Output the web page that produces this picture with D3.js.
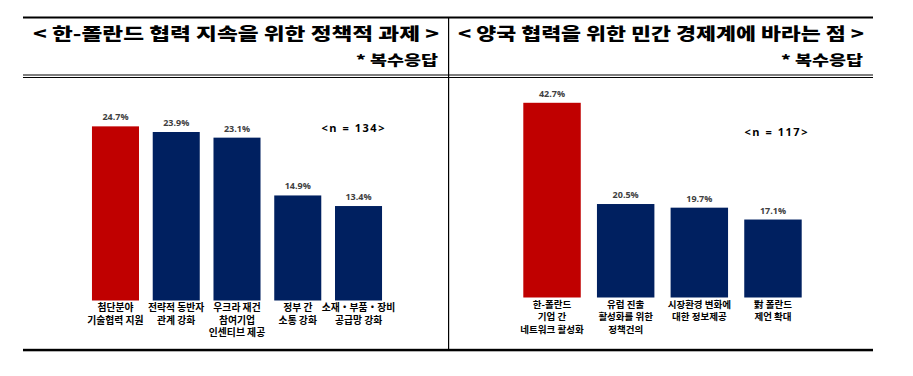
<!DOCTYPE html>
<html>
<head>
<meta charset="utf-8">
<script src="https://cdn.jsdelivr.net/npm/d3@7"></script>
<style>
  body { margin: 0; background: #fff; }
  text { font-family: "Noto Sans CJK KR", "Noto Sans", sans-serif; }
</style>
</head>
<body>
<script>
var w = 913;
var h = 376;

// left panel data
var leftTitle = "< 한-폴란드 협력 지속을 위한 정책적 과제 >";
var leftCats = ["첨단분야\n기술협력 지원", "전략적 동반자\n관계 강화", "우크라 재건\n참여기업\n인센티브 제공", "정부 간\n소통 강화", "소재・부품・장비\n공급망 강화"];
var leftVals = [24.7, 23.9, 23.1, 14.9, 13.4];
var leftN = "<n = 134>";

// right panel data
var rightTitle = "< 양국 협력을 위한 민간 경제계에 바라는 점 >";
var rightCats = ["한-폴란드\n기업 간\n네트워크 활성화", "유럽 진출\n활성화를 위한\n정책건의", "시장환경 변화에\n대한 정보제공", "對 폴란드\n제언 확대"];
var rightVals = [42.7, 20.5, 19.7, 17.1];
var rightN = "<n = 117>";

var note = "* 복수응답";

var red = "#c00000";
var navy = "#002060";

var svg = d3.select("body").append("svg")
    .attr("width", w)
    .attr("height", h);

// frame lines
svg.append("rect").attr("x", 23).attr("y", 16.5).attr("width", 850).attr("height", 2).attr("fill", "#000");
svg.append("rect").attr("x", 23).attr("y", 74.5).attr("width", 850).attr("height", 1).attr("fill", "#000");
svg.append("rect").attr("x", 23).attr("y", 77).attr("width", 850).attr("height", 1).attr("fill", "#000");
svg.append("rect").attr("x", 23).attr("y", 348.8).attr("width", 850).attr("height", 2.5).attr("fill", "#000");
svg.append("rect").attr("x", 448).attr("y", 17).attr("width", 1.2).attr("height", 333).attr("fill", "#000");

function header(title, note, x0, x1) {
  svg.append("text")
    .attr("x", x0).attr("y", 40)
    .attr("textLength", x1 - x0)
    .attr("lengthAdjust", "spacingAndGlyphs")
    .style("font-size", "17px")
    .style("font-weight", 900)
    .text(title);
  svg.append("text")
    .attr("x", x1 - 1).attr("y", 65)
    .attr("text-anchor", "end")
    .attr("textLength", 82)
    .attr("lengthAdjust", "spacingAndGlyphs")
    .style("font-size", "13.5px")
    .style("font-weight", 900)
    .text(note);
}

header(leftTitle, note, 33, 439);
header(rightTitle, note, 458, 864);

function panel(cats, vals, n, opt) {
  var x = d3.scaleBand()
    .domain(cats)
    .range(opt.xr)
    .paddingInner(opt.pad)
    .paddingOuter(opt.pad / 2);

  var y = d3.scaleLinear()
    .domain([0, opt.ymax])
    .range([opt.base, opt.top]);

  var maxV = d3.max(vals);
  var g = svg.append("g");

  g.selectAll("rect.bar")
    .data(vals)
    .enter().append("rect")
    .attr("class", "bar")
    .attr("x", function(d, i) { return x(cats[i]); })
    .attr("y", function(d) { return y(d); })
    .attr("width", x.bandwidth())
    .attr("height", function(d) { return y(0) - y(d); })
    .attr("fill", function(d) { return d === maxV ? red : navy; });

  g.selectAll("text.val")
    .data(vals)
    .enter().append("text")
    .attr("class", "val")
    .attr("x", function(d, i) { return x(cats[i]) + x.bandwidth() / 2; })
    .attr("y", function(d) { return y(d) - 6; })
    .attr("text-anchor", "middle")
    .style("font-family", "'Open Sans', 'Noto Sans', sans-serif")
    .style("font-size", "9px")
    .style("font-weight", 700)
    .style("fill", "#404040")
    .text(function(d) { return d.toFixed(1) + "%"; });

  var ax = g.append("g")
    .attr("transform", "translate(0," + opt.base + ")")
    .call(d3.axisBottom(x).tickSize(0).tickPadding(0));
  ax.select(".domain").remove();
  ax.selectAll(".tick text").each(function(d) {
    var t = d3.select(this);
    t.text(null).attr("y", 0).attr("dy", null)
      .style("font-family", "'Noto Sans CJK KR', sans-serif")
      .style("font-size", opt.fs + "px")
      .style("font-weight", 700)
      .attr("fill", "#000");
    d.split("\n").forEach(function(line, i) {
      t.append("tspan")
        .attr("x", 0)
        .attr("y", opt.lab0 + i * opt.lh)
        .text(line);
    });
  });

  g.append("text")
    .attr("x", opt.nx).attr("y", opt.ny)
    .attr("text-anchor", "middle")
    .attr("textLength", 63)
    .attr("lengthAdjust", "spacing")
    .style("font-family", "'Open Sans', 'Noto Sans', sans-serif")
    .style("font-size", "11px")
    .style("font-weight", 700)
    .text(n);
}

panel(leftCats, leftVals, leftN, {
  xr: [85.1, 388.9], pad: 0.226,
  ymax: 30, base: 300.5, top: 300.5 - 30 * 7.05,
  lab0: 10.5, lh: 12.5, fs: 9.8,
  nx: 353, ny: 132
});

panel(rightCats, rightVals, rightN, {
  xr: [515.2, 809.8], pad: 0.22,
  ymax: 50, base: 297.5, top: 297.5 - 50 * 4.56,
  lab0: 10, lh: 12.5, fs: 9.5,
  nx: 776, ny: 135.5
});
</script>
</body>
</html>
